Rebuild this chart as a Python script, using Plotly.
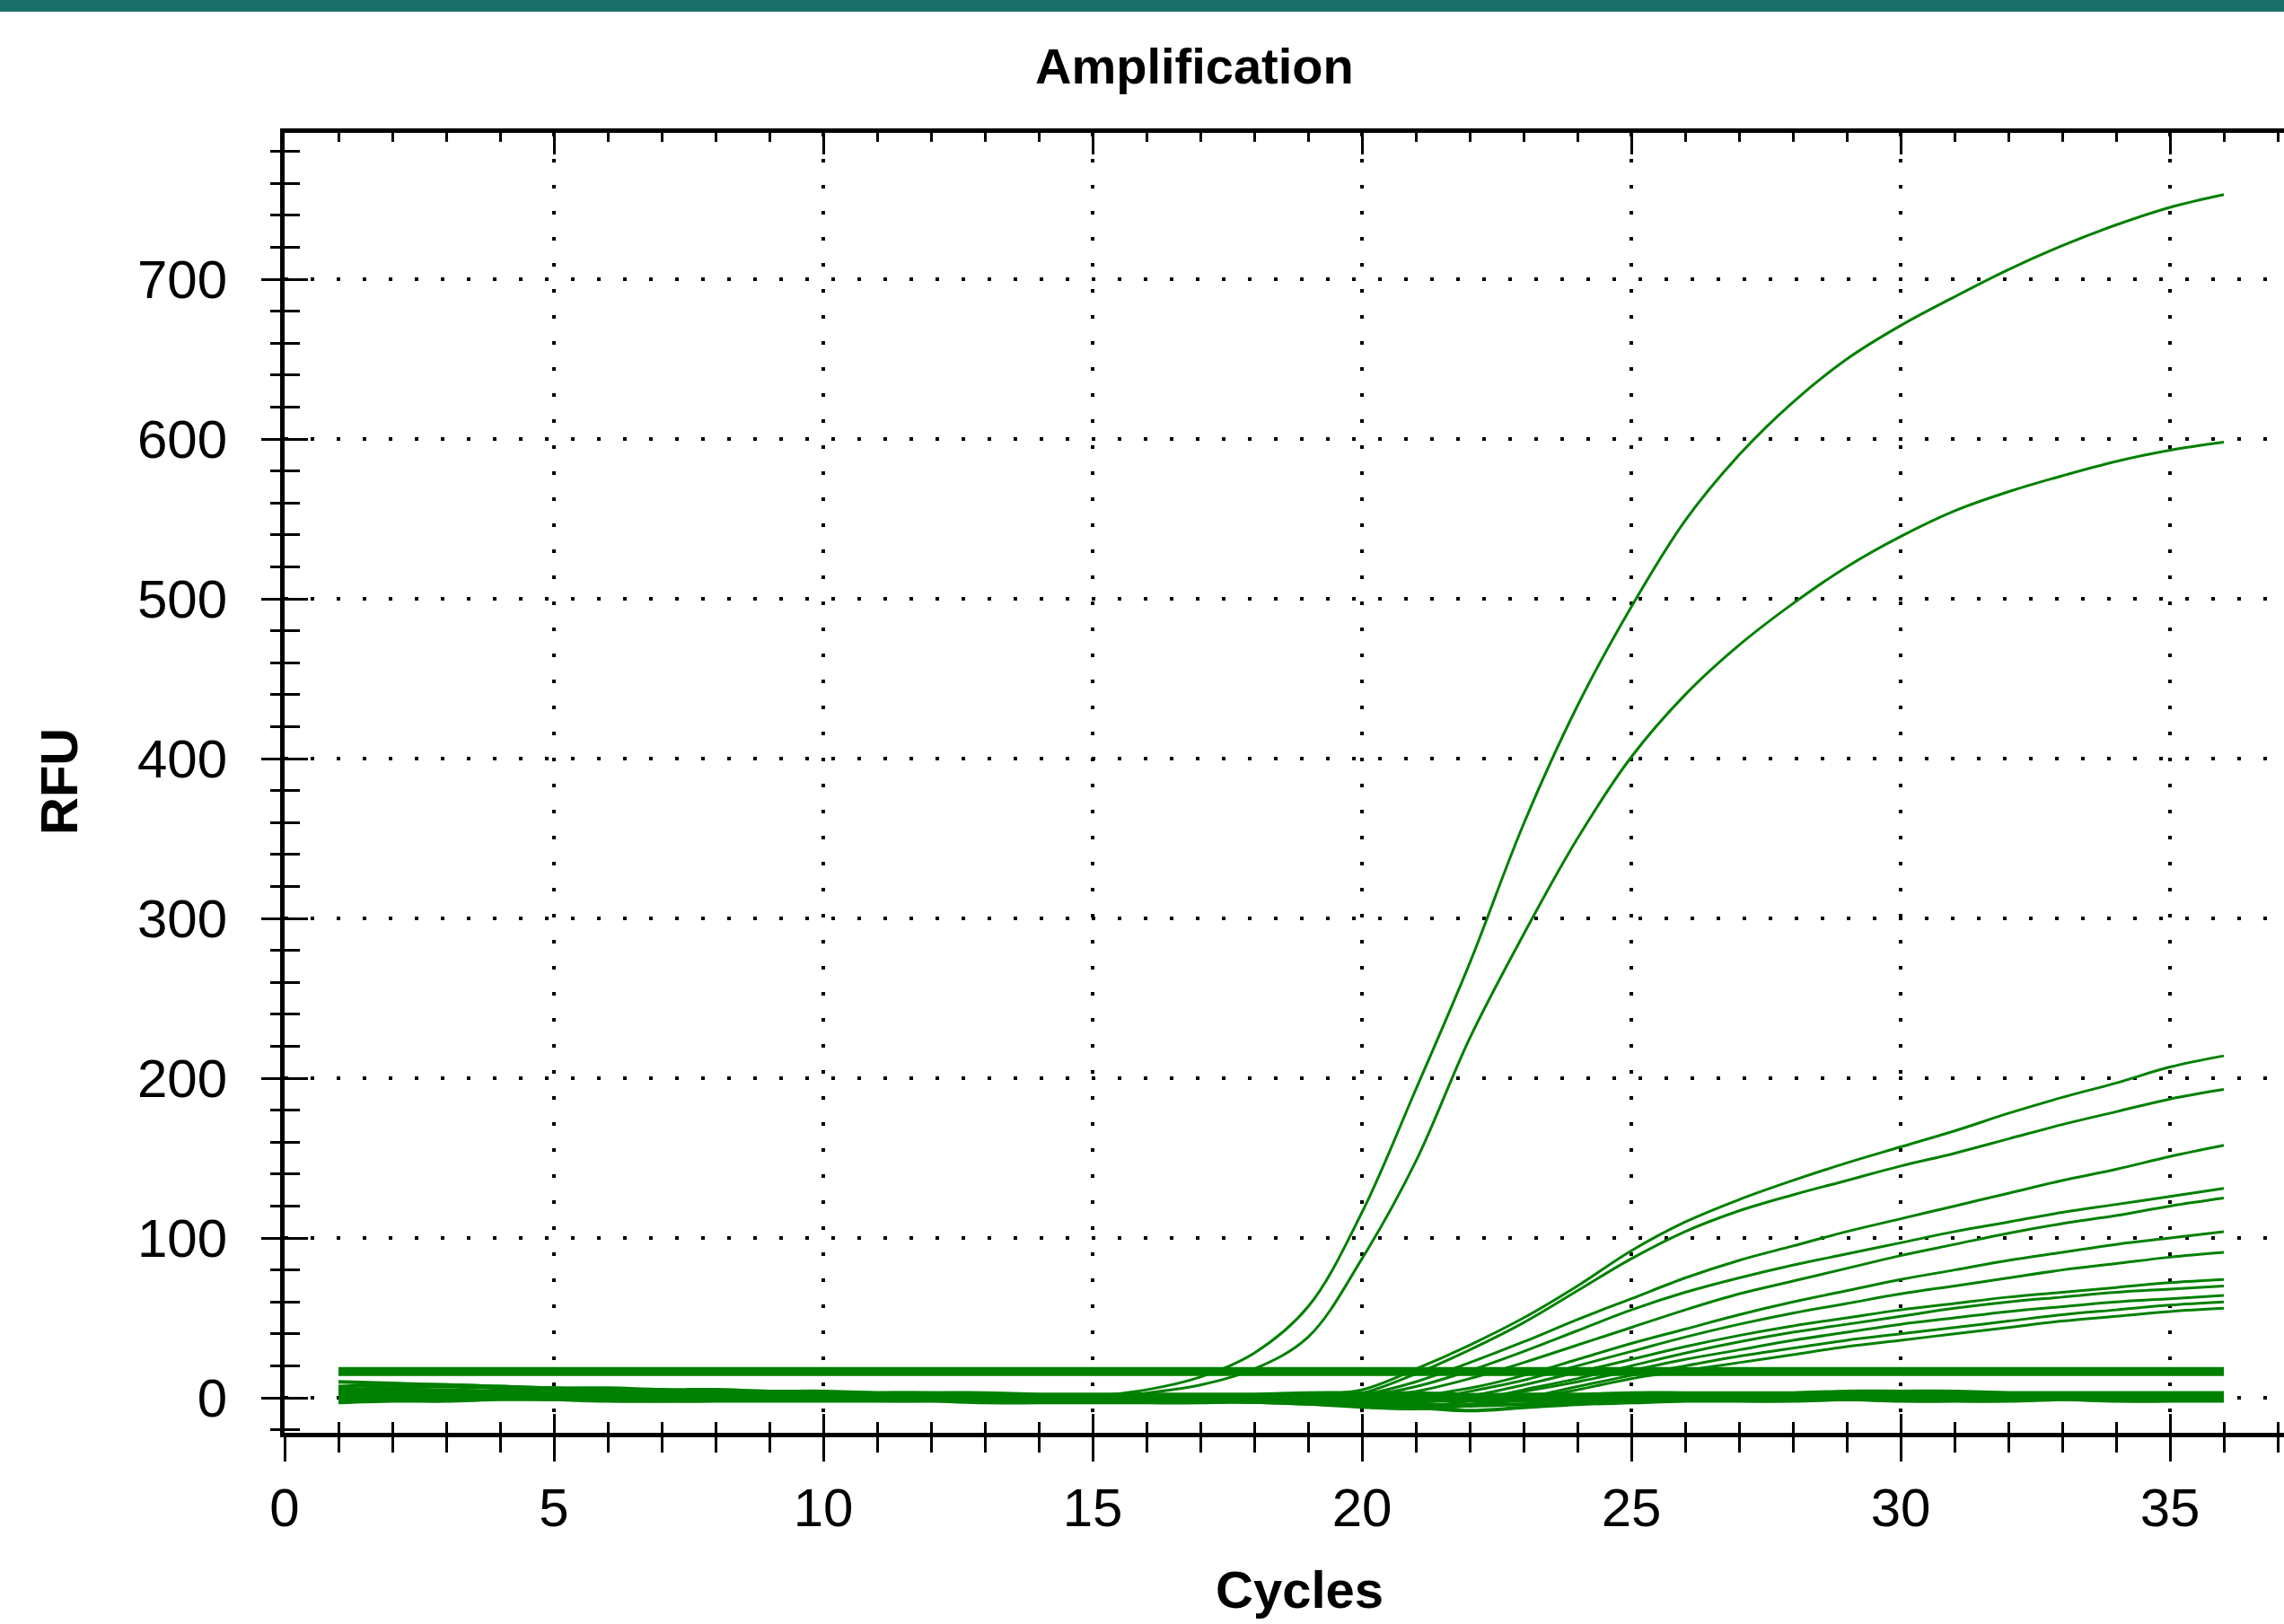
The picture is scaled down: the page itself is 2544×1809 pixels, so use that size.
import plotly.graph_objects as go

# ---------------- data ----------------
cycles = list(range(1, 37))

curve_a = [2, 4, 5, 4, 3, 2, 2, 1, 1, 0, 0, 0, -1, -1, 1, 5, 13, 28, 57, 116, 193, 272, 359, 433,
           495, 549, 590, 623, 650, 671, 689, 706, 721, 734, 745, 753]
curve_b = [1, 2, 3, 3, 2, 1, 1, 0, 0, 0, -1, -1, -1, -1, 0, 3, 8, 18, 38, 87, 148, 225, 290, 350,
           401, 440, 471, 497, 520, 539, 555, 567, 577, 586, 593, 598]

low_1 = [3, 4, 4, 3, 3, 2, 2, 2, 1, 1, 1, 1, 1, 0, 0, 0, 1, 1, 2, 5, 18, 33, 50, 70,
         92, 110, 124, 136, 147, 157, 167, 178, 188, 197, 207, 214]
low_2 = [2, 2, 3, 3, 2, 2, 1, 1, 1, 1, 0, 0, 0, 0, 0, 0, 0, 1, 1, 3, 15, 30, 47, 67,
         87, 104, 117, 127, 136, 145, 153, 162, 171, 179, 187, 193]
low_3 = [1, 1, 2, 2, 1, 1, 0, 0, 0, 0, 0, -1, -1, -1, -1, 0, 0, 0, 1, 2, 10, 22, 35, 49,
         62, 75, 86, 95, 104, 112, 120, 128, 136, 143, 151, 158]
low_4 = [0, 0, 1, 1, 1, 0, 0, 0, -1, -1, -1, -1, -1, -2, -2, -1, -1, 0, 0, 1, 7, 17, 29, 42,
         55, 66, 75, 83, 90, 97, 104, 110, 116, 121, 126, 131]
low_5 = [4, 4, 3, 3, 2, 2, 2, 1, 1, 1, 1, 0, 0, 0, 0, 0, 0, 0, 0, 0, 4, 12, 22, 33,
         44, 55, 65, 73, 81, 89, 96, 103, 109, 114, 120, 125]
low_6 = [2, 2, 2, 1, 1, 1, 0, 0, 0, 0, -1, -1, -1, -1, -1, -1, -2, -2, -2, -1, 1, 6, 14, 24,
         34, 43, 52, 60, 67, 74, 80, 86, 91, 96, 100, 104]
low_7 = [1, 1, 1, 1, 0, 0, 0, 0, 0, 0, 0, 0, 0, 0, -1, -1, -1, -2, -3, -3, -2, 4, 11, 20,
         29, 38, 46, 53, 59, 65, 70, 75, 80, 84, 88, 91]
low_8 = [3, 3, 2, 2, 2, 1, 1, 1, 1, 0, 0, 0, 0, 0, 0, 0, 0, -1, -1, -2, -3, 1, 8, 16,
         24, 32, 39, 45, 50, 55, 59, 63, 66, 69, 72, 74]
low_9 = [0, 0, 0, 0, -1, -1, -1, -1, -1, -1, -2, -2, -2, -2, -2, -2, -3, -3, -4, -5, -6, -2, 5, 12,
         20, 28, 35, 41, 46, 51, 56, 60, 63, 66, 68, 70]
low_10 = [5, 5, 4, 4, 3, 3, 3, 2, 2, 2, 2, 1, 1, 1, 1, 1, 0, 0, 0, -1, -2, -1, 4, 10,
          17, 24, 30, 36, 41, 46, 50, 54, 57, 60, 62, 64]
low_11 = [1, 2, 2, 2, 1, 1, 1, 0, 0, 0, 0, 0, -1, -1, -1, -1, -2, -2, -3, -4, -5, -4, 0, 7,
          14, 20, 26, 31, 36, 40, 44, 48, 52, 55, 58, 60]
low_12 = [-1, -1, 0, 0, 0, 0, -1, -1, -1, -1, -1, -1, -1, -1, -1, -2, -2, -3, -4, -6, -7, -5, -1, 5,
          12, 17, 22, 27, 32, 36, 40, 44, 48, 51, 54, 56]

flat_1 = [5, 6, 7, 6, 5, 4, 4, 3, 3, 2, 2, 2, 1, 1, 1, 1, 0, 0, 0, 0, 1, 1, 2, 2, 2, 1, 1, 1, 1, 1, 2, 2, 2, 1, 1, 1]
flat_2 = [2, 3, 4, 4, 3, 3, 2, 2, 1, 1, 1, 0, 0, 0, -1, -1, -1, -1, 0, 0, 0, 0, 1, 1, 1, 1, 0, 0, 0, 1, 1, 1, 0, 0, 0, 0]
flat_3 = [0, 1, 2, 2, 2, 1, 1, 0, 0, 0, -1, -1, -1, -2, -2, -2, -2, -1, -1, -1, -1, 0, 0, 0, 0, 0, 0, -1, -1, -1, 0, 0, 0, 0, -1, -1]
flat_4 = [-3, -2, -2, -1, -1, -1, -2, -2, -2, -2, -2, -2, -3, -3, -3, -3, -3, -2, -2, -2, -2, -2, -2, -1, -1, -1, -1, -1, -1, -2, -2, -2, -1, -1, -1, -1]
flat_5 = [7, 8, 8, 7, 6, 6, 5, 5, 4, 4, 3, 3, 3, 2, 2, 2, 2, 2, 3, 3, 3, 2, 2, 2, 3, 3, 3, 3, 4, 4, 4, 3, 3, 3, 3, 3]
flat_6 = [1, 0, 0, 1, 1, 0, 0, -1, -1, -1, 0, 0, 0, 1, 1, 0, 0, -1, -2, -3, -4, -5, -4, -3, -2, -1, -1, 0, 0, 0, 0, 1, 1, 1, 0, 0]
flat_7 = [4, 3, 3, 2, 2, 3, 3, 3, 2, 2, 2, 1, 1, 0, 0, 0, 1, 1, 1, 1, 0, 0, 0, -1, -1, 0, 0, 1, 1, 2, 2, 2, 2, 2, 2, 2]
flat_8 = [-1, -1, 0, 0, -1, -2, -2, -1, -1, 0, 0, -1, -1, -2, -2, -2, -1, -1, -2, -3, -6, -8, -6, -4, -3, -2, -2, -2, -1, -1, -1, -1, -1, -2, -2, -2]
flat_9 = [10, 9, 8, 7, 6, 5, 4, 4, 3, 3, 3, 3, 2, 2, 2, 2, 2, 2, 2, 1, 1, 1, 1, 1, 1, 2, 2, 2, 3, 3, 3, 3, 3, 3, 3, 3]

threshold_x = [1, 36]
threshold_y = [16.5, 16.5]

x_ticks = [0, 5, 10, 15, 20, 25, 30, 35]
y_ticks = [0, 100, 200, 300, 400, 500, 600, 700]

# ---------------- figure ----------------
GREEN = "#008000"
FONT = "Liberation Sans, Arial, sans-serif"

flat_series = [flat_1, flat_2, flat_3, flat_4, flat_5, flat_6, flat_7, flat_8, flat_9]
amp_series = [low_12, low_11, low_10, low_9, low_8, low_7, low_6, low_5, low_4, low_3, low_2, low_1,
              curve_b, curve_a]

fig = go.Figure()
for s in flat_series:
    fig.add_trace(go.Scatter(x=cycles, y=s, mode="lines", line_shape="spline",
                             line=dict(color=GREEN, width=4),
                             hoverinfo="skip", showlegend=False))
for s in amp_series:
    fig.add_trace(go.Scatter(x=cycles, y=s, mode="lines", line_shape="spline",
                             line=dict(color=GREEN, width=3),
                             hoverinfo="skip", showlegend=False))
fig.add_trace(go.Scatter(x=threshold_x, y=threshold_y, mode="lines",
                         line=dict(color=GREEN, width=10),
                         hoverinfo="skip", showlegend=False))
# helper traces so the overlay axes (crossing ticks, top axis) get drawn
fig.add_trace(go.Scatter(x=[None], y=[None], xaxis="x2", yaxis="y", showlegend=False, hoverinfo="skip"))
fig.add_trace(go.Scatter(x=[None], y=[None], xaxis="x3", yaxis="y", showlegend=False, hoverinfo="skip"))
fig.add_trace(go.Scatter(x=[None], y=[None], xaxis="x", yaxis="y2", showlegend=False, hoverinfo="skip"))

L, R, T, B = 317, 0, 148, 213
W, H = 2544, 1809
PH = H - T - B
PW = W - L - R
XR = [0, (W - L) / 60.0]
YR = [-21.9, 791.6]

grid = dict(showgrid=True, gridcolor="black", gridwidth=4, griddash="4px,25px")

fig.update_layout(
    width=W, height=H, autosize=False,
    margin=dict(l=L, r=R, t=T, b=B, pad=0),
    paper_bgcolor="white", plot_bgcolor="white",
    font=dict(family=FONT, color="black"),
    showlegend=False,
    xaxis=dict(range=XR, tickmode="array", tickvals=x_ticks, ticktext=[str(v) for v in x_ticks],
               ticks="outside", ticklen=27, tickwidth=3, tickcolor="black",
               showline=True, linewidth=5, linecolor="black", zeroline=False,
               tickfont=dict(size=60, family=FONT, color="black"), ticklabelstandoff=0,
               minor=dict(dtick=1, tick0=0, ticks="outside", ticklen=17, tickwidth=3,
                          tickcolor="black", showgrid=False),
               **grid),
    xaxis2=dict(range=XR, overlaying="x", anchor="y", side="bottom",
                ticks="inside", ticklen=21, tickwidth=3, tickcolor="black",
                tickmode="array", tickvals=x_ticks,
                showticklabels=False, showgrid=False, zeroline=False, showline=False,
                minor=dict(dtick=1, tick0=0, ticks="inside", ticklen=12, tickwidth=3,
                           tickcolor="black", showgrid=False)),
    xaxis3=dict(range=XR, overlaying="x", anchor="y", side="top",
                ticks="inside", ticklen=24, tickwidth=3, tickcolor="black",
                tickmode="array", tickvals=x_ticks,
                showticklabels=False, showgrid=False, zeroline=False,
                showline=True, linewidth=5, linecolor="black",
                minor=dict(dtick=1, tick0=0, ticks="inside", ticklen=10, tickwidth=3,
                           tickcolor="black", showgrid=False)),
    yaxis=dict(range=YR, tickmode="array", tickvals=y_ticks, ticktext=[str(v) for v in y_ticks],
               ticks="outside", ticklen=21, tickwidth=3, tickcolor="black",
               showline=True, linewidth=5, linecolor="black", zeroline=False,
               tickfont=dict(size=60, family=FONT, color="black"), ticklabelstandoff=26,
               minor=dict(dtick=20, tick0=0, ticks="outside", ticklen=11, tickwidth=3,
                          tickcolor="black", showgrid=False),
               **grid),
    yaxis2=dict(range=YR, overlaying="y", anchor="x", side="left",
                ticks="inside", ticklen=26, tickwidth=3, tickcolor="black",
                tickmode="array", tickvals=y_ticks,
                showticklabels=False, showgrid=False, zeroline=False, showline=False,
                minor=dict(dtick=20, tick0=0, ticks="inside", ticklen=17, tickwidth=3,
                           tickcolor="black", showgrid=False)),
)

# teal header band
fig.add_shape(type="rect", xref="paper", yref="paper",
              x0=-L / PW, x1=1.0, y0=1 + (T - 13) / PH, y1=1 + T / PH,
              fillcolor="#1b6e68", line=dict(width=0), layer="above")

fig.add_annotation(text="<b>Amplification</b>", xref="paper", yref="paper",
                   x=(1330 - L) / PW, y=1 + (T - 73) / PH, xanchor="center", yanchor="middle",
                   showarrow=False, font=dict(size=56, family=FONT, color="black"))
fig.add_annotation(text="<b>RFU</b>", xref="paper", yref="paper",
                   x=(66 - L) / PW, y=(H - B - 871) / PH, xanchor="center", yanchor="middle",
                   textangle=-90, showarrow=False, font=dict(size=58, family=FONT, color="black"))
fig.add_annotation(text="<b>Cycles</b>", xref="paper", yref="paper",
                   x=(1447 - L) / PW, y=(H - B - 1770) / PH, xanchor="center", yanchor="middle",
                   showarrow=False, font=dict(size=58, family=FONT, color="black"))

fig.write_html("out.html", config={"displayModeBar": False},
               post_script="document.body.style.margin='0';document.body.style.overflow='hidden';")
